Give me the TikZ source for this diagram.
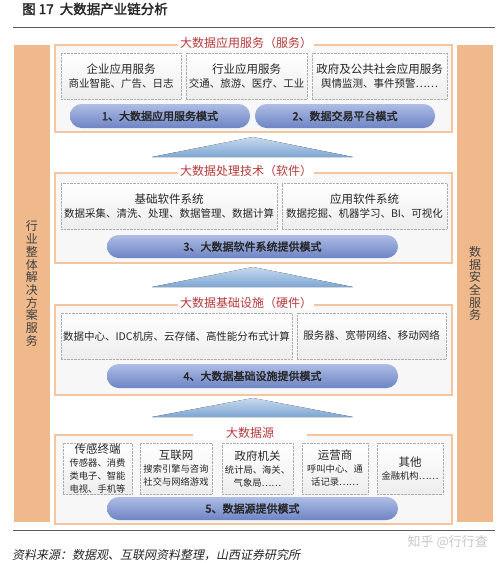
\documentclass[tikz,border=0pt]{standalone}
\usepackage{fontspec}
\setmainfont{Noto Sans CJK SC}[AutoFakeBold=2, AutoFakeSlant=0.2]
\usetikzlibrary{shadows}
\definecolor{barorange}{HTML}{F0B98C}
\definecolor{frameline}{HTML}{F3C6A0}
\definecolor{framefill}{HTML}{F7F7F7}
\definecolor{titlered}{HTML}{B5393C}
\definecolor{pilltop}{HTML}{AEBDE5}
\definecolor{pillbot}{HTML}{6E84C4}
\definecolor{tritop}{HTML}{C8DAEE}
\definecolor{tribot}{HTML}{7DA5D2}
\definecolor{rulegray}{HTML}{5A5A5A}
\newcommand{\hd}{\fontsize{11.5}{13}\selectfont}

\begin{document}
\begin{tikzpicture}[x=1pt, y=-1pt,
  every node/.style={inner sep=0pt, text=black!85},
  layer/.style={draw=frameline, line width=1.2pt, fill=framefill,
    drop shadow={opacity=0.2, shadow xshift=1.2pt, shadow yshift=-1.2pt}},
  layertitle/.style={fill=white, text=titlered, inner xsep=2pt, inner ysep=1pt,
    font=\fontsize{12}{14}\selectfont},
  subbox/.style={draw=gray!65, densely dotted, top color=white, bottom color=gray!14,
    align=center, minimum height=46pt, font=\fontsize{10.5}{14}\selectfont},
  srcbox/.style={subbox, minimum height=51pt, font=\fontsize{9.3}{13}\selectfont},
  pill/.style={top color=pilltop, bottom color=pillbot, rounded corners=11.5pt,
    minimum height=24pt, font=\bfseries\fontsize{11}{13}\selectfont},
  sidebar/.style={fill=barorange, minimum width=36pt, minimum height=477pt,
    align=center, text=black!75, font=\fontsize{12}{12.7}\selectfont},
  uptri/.style={top color=tritop, bottom color=tribot}
]
\useasboundingbox (0,0) rectangle (500,563);

\node[anchor=west, font=\bfseries\fontsize{13.5}{15}\selectfont] (figtitle) at (22,9) {图 17\ \ 大数据产业链分析};
\coordinate (topl) at (13,27);
\coordinate (topr) at (495,27);
\draw[rulegray, line width=1pt] (topl) -- (topr);

% side bars
\node[sidebar] (solution) at (32,283.5) {行\\业\\整\\体\\解\\决\\方\\案\\服\\务};
\node[sidebar] (security) at (475,283.5) {数\\据\\安\\全\\服\\务};

% layer frames
\node[layer, minimum width=397pt, minimum height=87pt] (app) at (253.5,88.5) {};
\node[layer, minimum width=397pt, minimum height=90pt] (soft) at (253.5,218) {};
\node[layer, minimum width=397pt, minimum height=90pt] (hard) at (253.5,350) {};
\node[layer, minimum width=397pt, minimum height=89pt] (data) at (253.5,479.5) {};

\node[layertitle] (apptitle) at (246,43) {大数据应用服务（服务）};
\node[layertitle] (softtitle) at (246,171) {大数据处理技术（软件）};
\node[layertitle] (hardtitle) at (246,303) {大数据基础设施（硬件）};
\node[layertitle, minimum width=114pt] (datatitle) at (250,433) {大数据源};

% application layer
\node[subbox, minimum width=120pt] (ent) at (121,76) {{\hd 企业应用服务}\\商业智能、广告、日志};
\node[subbox, minimum width=121pt] (ind) at (246.5,76) {{\hd 行业应用服务}\\交通、旅游、医疗、工业};
\node[subbox, minimum width=135pt] (gov) at (379.5,76) {{\hd 政府及公共社会应用服务}\\舆情监测、事件预警⋯⋯};
\node[pill, minimum width=180pt] (mode1) at (160,116) {1、大数据应用服务模式};
\node[pill, minimum width=180pt] (mode2) at (345,116) {2、数据交易平台模式};

% software layer
\node[subbox, minimum width=216pt] (basesw) at (169,206) {{\hd 基础软件系统}\\数据采集、清洗、处理、数据管理、数据计算};
\node[subbox, minimum width=165pt] (appsw) at (364.5,206) {{\hd 应用软件系统}\\数据挖掘、机器学习、BI、可视化};
\node[pill, minimum width=291pt, minimum height=23pt] (mode3) at (252.5,246.5) {3、大数据软件系统提供模式};

% hardware layer
\node[subbox, minimum width=231pt] (center) at (176.5,336) {数据中心、IDC机房、云存储、高性能分布式计算};
\node[subbox, minimum width=149pt] (server) at (371.5,336) {服务器、宽带网络、移动网络};
\node[pill, minimum width=291pt] (mode4) at (252.5,376) {4、大数据基础设施提供模式};

% data source layer
\node[srcbox, minimum width=69pt] (sensor) at (97.5,468.5) {{\hd 传感终端}\\传感器、消费\\类电子、智能\\电视、手机等};
\node[srcbox, minimum width=72pt] (web) at (176,468.5) {{\hd 互联网}\\搜索引擎与咨询\\社交与网络游戏};
\node[srcbox, minimum width=71pt] (govsrc) at (257.5,468.5) {{\hd 政府机关}\\统计局、海关、\\气象局⋯⋯};
\node[srcbox, minimum width=66pt] (telecom) at (335,468.5) {{\hd 运营商}\\呼叫中心、通\\话记录⋯⋯};
\node[srcbox, minimum width=66pt] (other) at (410,468.5) {{\hd 其他}\\金融机构⋯⋯};
\node[pill, minimum width=291pt, minimum height=23pt] (mode5) at (252.5,508.5) {5、数据源提供模式};

% arrows between layers
\fill[uptri] (152,157) -- (253,137) -- (353,157) -- cycle;
\fill[uptri] (152,287) -- (253,267) -- (353,287) -- cycle;
\fill[uptri] (152,417) -- (253,398) -- (353,417) -- cycle;

\coordinate (botl) at (13,530);
\coordinate (botr) at (495,530);
\draw[rulegray, line width=1pt] (botl) -- (botr);
\node[anchor=east, text=gray!45, font=\fontsize{13}{15}\selectfont] (mark) at (488,542) {知乎 @行行查};
\node[anchor=west, font=\itshape\fontsize{12}{14}\selectfont] (source) at (12,555) {资料来源：数据观、互联网资料整理，山西证券研究所};
\end{tikzpicture}
\end{document}
